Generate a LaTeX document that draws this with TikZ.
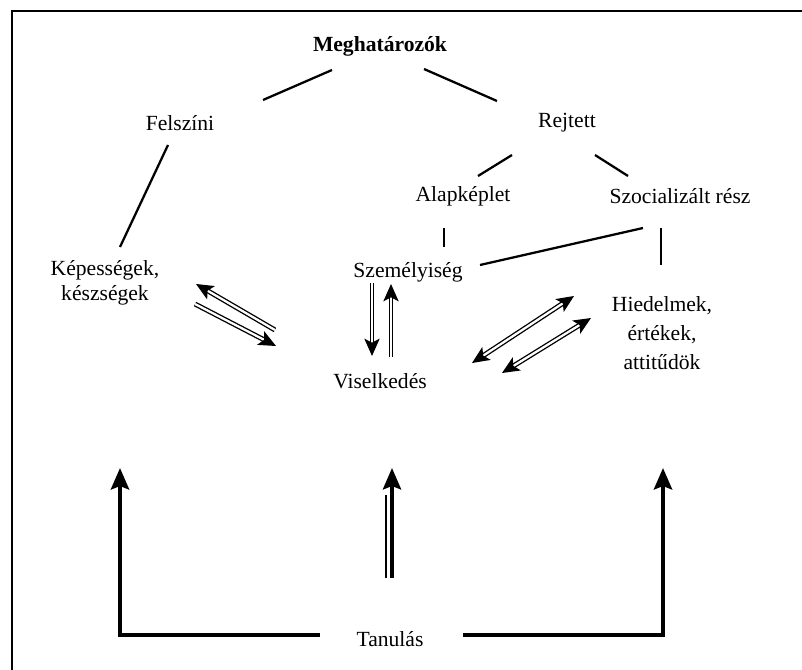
\documentclass[tikz,border=0pt]{standalone}
\usepackage{fontspec}
\setmainfont{Liberation Serif}
\usetikzlibrary{arrows.meta}
\begin{document}
\begin{tikzpicture}[x=0.75pt,y=-0.75pt,
  txt/.style={inner sep=0pt, font=\fontsize{16.2}{19}\selectfont, align=center},
  link/.style={line width=1.7pt},
  tipd/.tip={Stealth[length=13pt,width=11.5pt,inset=3pt]},
  dbl/.style={double, double distance=1.7pt, line width=1pt, -tipd},
  dblboth/.style={double, double distance=1.7pt, line width=1pt, tipd-tipd},
  tiph/.tip={Stealth[length=16pt,width=13.5pt,inset=2.5pt]},
  heavy/.style={line width=3.7pt, -tiph},
]
\useasboundingbox (0,0) rectangle (802,670);
% frame (top and left only visible)
\draw[line width=1.8pt] (12,700) -- (12,11) -- (820,11);

% nodes
\node[txt] (meg) at (380,46) {\textbf{Meghatározók}};
\node[txt] (fel) at (180,123) {Felszíni};
\node[txt] (rej) at (567,123) {Rejtett};
\node[txt] (ala) at (463,196) {Alapképlet};
\node[txt] (szo) at (680,196) {Szocializált rész};
\node[txt, font=\fontsize{16.2}{19}\selectfont] (kep) at (105,283) {Képességek,\\készségek};
\node[txt] (sze) at (408,272) {Személyiség};
\node[txt] (vis) at (380,381) {Viselkedés};
\node[txt, font=\fontsize{16.2}{21.5}\selectfont] (hie) at (662,333) {Hiedelmek,\\értékek,\\attitűdök};
\node[txt] (tan) at (390,639) {Tanulás};

% plain links
\coordinate (m1) at (332,70);  \coordinate (f1) at (263,100);
\coordinate (m2) at (424,69);  \coordinate (r1) at (497,101);
\coordinate (f2) at (168,145); \coordinate (k1) at (120,247);
\coordinate (r2) at (512,155); \coordinate (a1) at (478,176);
\coordinate (r3) at (595,155); \coordinate (s1) at (628,176);
\coordinate (a2) at (444,228); \coordinate (p1) at (444,247);
\coordinate (s2) at (661,228); \coordinate (h1) at (661,265);
\coordinate (p2) at (480,265); \coordinate (s3) at (643,228);
\draw[link] (m1) -- (f1);
\draw[link] (m2) -- (r1);
\draw[link] (f2) -- (k1);
\draw[link] (r2) -- (a1);
\draw[link] (r3) -- (s1);
\draw[link] (a2) -- (p1);
\draw[link] (s2) -- (h1);
\draw[link] (p2) -- (s3);

% double arrows
\coordinate (kv1) at (275,330); \coordinate (kv2) at (196,284);
\coordinate (kv3) at (195,304); \coordinate (kv4) at (276,346);
\draw[dbl] (kv1) -- (kv2);
\draw[dbl] (kv3) -- (kv4);
\coordinate (sv1) at (372,283); \coordinate (sv2) at (372,356);
\coordinate (sv3) at (391,357); \coordinate (sv4) at (391,284);
\draw[dbl] (sv1) -- (sv2);
\draw[dbl] (sv3) -- (sv4);
\coordinate (vh1) at (472,363); \coordinate (vh2) at (574,296);
\coordinate (vh3) at (502,373); \coordinate (vh4) at (591,318);
\draw[dblboth] (vh1) -- (vh2);
\draw[dblboth] (vh3) -- (vh4);

% learning arrows
\coordinate (tl) at (320,635); \coordinate (kl) at (120,635); \coordinate (kt) at (120,468);
\coordinate (tr) at (463,635); \coordinate (hr) at (663,635); \coordinate (ht) at (663,468);
\draw[heavy] (tl) -- (kl) -- (kt);
\draw[heavy] (tr) -- (hr) -- (ht);
\coordinate (tv1) at (392,578); \coordinate (tv2) at (392,468);
\coordinate (tv3) at (386,578); \coordinate (tv4) at (386,495);
\draw[line width=3pt, -tiph] (tv1) -- (tv2);
\draw[line width=1pt] (tv3) -- (tv4);
\end{tikzpicture}
\end{document}
